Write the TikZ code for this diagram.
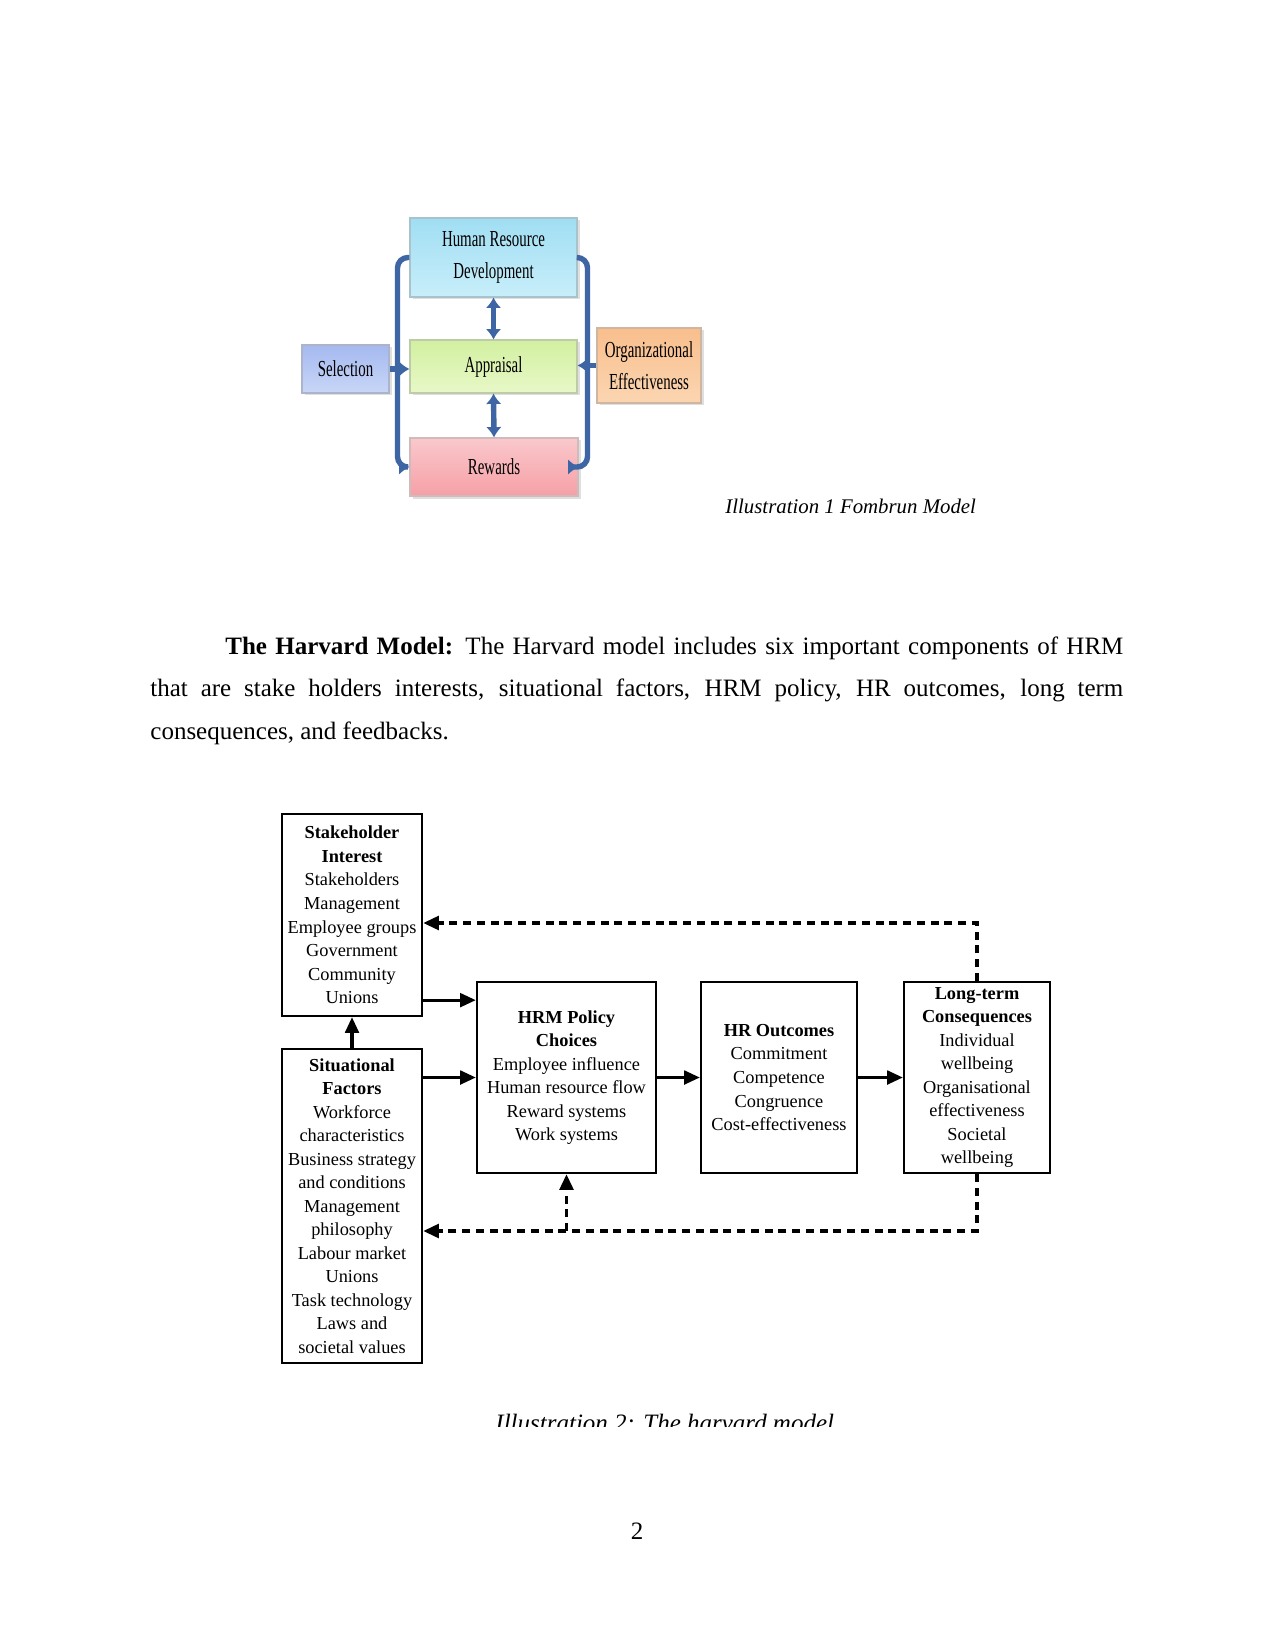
\documentclass[tikz,border=0pt]{standalone}
\usepackage{fontspec}
\setmainfont{Liberation Serif}
\newfontfamily\condfont[FakeStretch=0.65]{Liberation Serif}
\usetikzlibrary{arrows.meta,shadows}
\newdimen\pxu \pxu=0.48pt
\definecolor{fbblue}{RGB}{62,102,165}
\definecolor{hrdtop}{RGB}{160,222,243}\definecolor{hrdbot}{RGB}{200,238,250}
\definecolor{apptop}{RGB}{210,240,160}\definecolor{appbot}{RGB}{232,248,200}
\definecolor{rewtop}{RGB}{250,200,204}\definecolor{rewbot}{RGB}{245,160,166}
\definecolor{seltop}{RGB}{165,185,240}\definecolor{selbot}{RGB}{200,214,246}
\definecolor{orgtop}{RGB}{249,190,140}\definecolor{orgbot}{RGB}{251,214,178}
\tikzset{
  fbox/.style={rectangle, inner sep=0pt, align=center, draw=#1!70!black!60, line width=0.5pt,
     font=\condfont\fontsize{11}{15.5}\selectfont,
     drop shadow={shadow xshift=1.2pt, shadow yshift=-1.2pt, opacity=0.25}},
  fconn/.style={draw=fbblue, line width=2.6pt, rounded corners=5pt},
  ftip/.style={-{Latex[length=5pt,width=7.5pt]}},
  fdtip/.style={{Latex[length=5pt,width=7.5pt]}-{Latex[length=5pt,width=7.5pt]}},
  hbox/.style={rectangle, draw=black, line width=1.1pt, inner sep=0pt, align=center,
     font=\fontsize{8.8}{11.3}\selectfont},
  harr/.style={line width=1.5pt, -{Triangle[length=7.5pt,width=6.5pt]}},
  hdash/.style={line width=1.7pt, dash pattern=on 3.8pt off 2.8pt, -{Triangle[length=7.5pt,width=6.5pt]}},
  caption/.style={font=\itshape, inner sep=0pt, anchor=base west}
}
\begin{document}
\begin{tikzpicture}[x=0.48pt, y=-0.48pt]
\useasboundingbox (0,0) rectangle (1275,1650);
\fill[white] (0,0) rectangle (1275,1650);

% ---------- Fombrun model ----------
\node[fbox=hrdtop, top color=hrdtop, bottom color=hrdbot, minimum width=167\pxu, minimum height=79\pxu]
  (hrd) at (493.5,257.5) {Human Resource\\Development};
\node[fbox=apptop, top color=apptop, bottom color=appbot, minimum width=167\pxu, minimum height=53\pxu]
  (app) at (493.5,366.5) {Appraisal};
\node[fbox=rewtop, top color=rewtop, bottom color=rewbot, minimum width=168\pxu, minimum height=58\pxu]
  (rew) at (494,467) {Rewards};
\node[fbox=seltop, top color=seltop, bottom color=selbot, minimum width=87\pxu, minimum height=48\pxu]
  (sel) at (345.5,369) {Selection};
\node[fbox=orgtop, top color=orgtop, bottom color=orgbot, minimum width=104\pxu, minimum height=75\pxu]
  (org) at (649,365.5) {Organizational\\Effectiveness};

\draw[fconn, ftip] (hrd.west) -- ++(-12,0) |- (rew.west);
\draw[fconn, ftip] (hrd.east) -- ++(10,0) |- (rew.east);
\draw[fconn, ftip] (sel.east) -- (sel.east -| app.west);
\draw[fconn, ftip] (org.west) -- (org.west -| app.east);
\draw[fconn, fdtip] (hrd.south) -- (app.north);
\draw[fconn, fdtip] (app.south) -- (rew.north);

\node[caption, font=\fontsize{10}{12}\selectfont\itshape] (cap1) at (725,513) {Illustration 1 Fombrun Model};

% ---------- paragraph ----------
\node[inner sep=0pt, anchor=base west] (para) at (150,654) {\parbox[t]{467pt}{\fontsize{12}{20.4}\selectfont
  \parindent=36pt\indent\textbf{The Harvard Model:} The Harvard model includes six important components of HRM\linebreak
  that are stake holders interests, situational factors, HRM policy, HR outcomes, long term\linebreak
  consequences, and feedbacks.}};

% ---------- Harvard model ----------
\node[hbox, minimum width=140\pxu, minimum height=202\pxu] (stake) at (352,915)
  {\textbf{Stakeholder}\\\textbf{Interest}\\Stakeholders\\Management\\Employee groups\\Government\\Community\\Unions};
\node[hbox, minimum width=140\pxu, minimum height=314\pxu] (sit) at (352,1206)
  {\textbf{Situational}\\\textbf{Factors}\\Workforce\\characteristics\\Business strategy\\and conditions\\Management\\philosophy\\Labour market\\Unions\\Task technology\\Laws and\\societal values};
\node[hbox, minimum width=179\pxu, minimum height=191\pxu] (hrm) at (566.5,1077.5)
  {\textbf{HRM Policy}\\\textbf{Choices}\\Employee influence\\Human resource flow\\Reward systems\\Work systems};
\node[hbox, minimum width=156\pxu, minimum height=191\pxu] (hro) at (779,1077.5)
  {\textbf{HR Outcomes}\\Commitment\\Competence\\Congruence\\Cost-effectiveness};
\node[hbox, minimum width=146\pxu, minimum height=191\pxu] (lt) at (977,1077.5)
  {\textbf{Long-term}\\\textbf{Consequences}\\Individual\\wellbeing\\Organisational\\effectiveness\\Societal\\wellbeing};

\draw[harr] ([yshift=8.16pt]stake.south east) -- ([yshift=8.16pt]stake.south east -| hrm.west);
\draw[harr] (hrm.west -| sit.east) -- (hrm.west);
\draw[harr] (sit.north) -- (stake.south);
\draw[harr] (hrm.east) -- (hro.west);
\draw[harr] (hro.east) -- (lt.west);

\coordinate (fbtop) at (977,923);
\coordinate (fbbot) at (977,1231);
\draw[hdash] (lt.north) -- (fbtop) -- (fbtop -| stake.east);
\draw[hdash] (lt.south) -- (fbbot) -- (fbbot -| sit.east);
\draw[hdash] (fbbot -| hrm.south) -- (hrm.south);

\begin{scope}
\clip (0,1390) rectangle (1275,1426);
\node[caption, font=\fontsize{12}{14}\selectfont\itshape] (cap2) at (495,1431) {Illustration 2: The harvard model};
\end{scope}

\node[inner sep=0pt, anchor=base, font=\fontsize{12}{14}\selectfont] (pnum) at (637,1539) {2};
\end{tikzpicture}
\end{document}
